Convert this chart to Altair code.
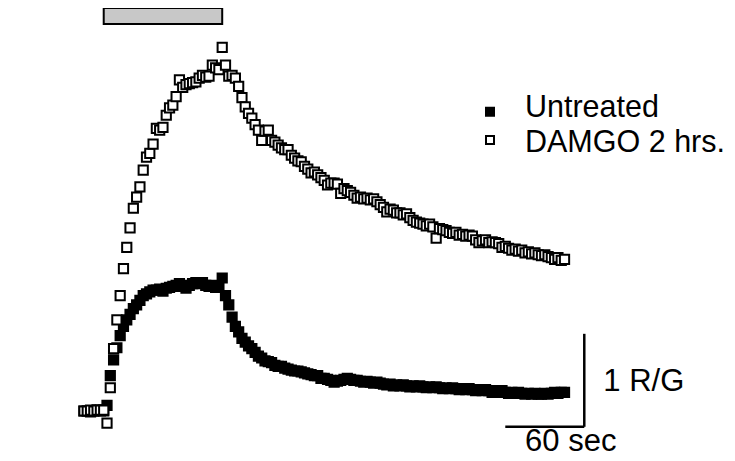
import altair as alt
import pandas as pd

# ---------------- data ----------------
SAMPLE_INTERVAL_S = 2.5          # acquisition interval between frames
series_names = ["Untreated", "DAMGO 2 hrs."]

# change in R/G ratio for each frame
untreated = [
    0.00, 0.00, -0.01, 0.00, 0.01, 0.00, 0.00, 0.06, 0.38, 0.55,
    0.68, 0.81, 0.91, 0.98, 1.04, 1.10, 1.14, 1.19, 1.24, 1.26,
    1.28, 1.30, 1.30, 1.31, 1.29, 1.32, 1.33, 1.34, 1.35, 1.37,
    1.34, 1.32, 1.35, 1.37, 1.38, 1.37, 1.38, 1.35, 1.34, 1.35,
    1.33, 1.34, 1.43, 1.24, 1.14, 1.01, 0.91, 0.85, 0.78, 0.74,
    0.70, 0.67, 0.63, 0.59, 0.57, 0.54, 0.53, 0.52, 0.49, 0.48,
    0.48, 0.46, 0.45, 0.44, 0.43, 0.43, 0.42, 0.41, 0.40, 0.39,
    0.38, 0.38, 0.35, 0.35, 0.34, 0.33, 0.31, 0.32, 0.33, 0.34,
    0.35, 0.34, 0.33, 0.33, 0.32, 0.31, 0.32, 0.31, 0.30, 0.31,
    0.30, 0.29, 0.28, 0.29, 0.27, 0.28, 0.27, 0.28, 0.27, 0.26,
    0.27, 0.26, 0.27, 0.26, 0.25, 0.26, 0.25, 0.26, 0.25, 0.24,
    0.25, 0.24, 0.25, 0.24, 0.23, 0.24, 0.23, 0.24, 0.23, 0.22,
    0.23, 0.22, 0.23, 0.22, 0.20, 0.22, 0.20, 0.22, 0.20, 0.19,
    0.20, 0.19, 0.20, 0.19, 0.18, 0.19, 0.18, 0.19, 0.18, 0.18,
    0.19, 0.18, 0.19, 0.20, 0.19, 0.20, 0.20,
]

damgo = [
    0.00, 0.00, 0.01, 0.00, 0.01, 0.01, 0.01, -0.13, 0.25, 0.67,
    0.98, 1.24, 1.53, 1.76, 1.97, 2.18, 2.30, 2.41, 2.59, 2.73,
    2.77, 2.87, 3.04, 3.02, 3.05, 3.18, 3.26, 3.29, 3.38, 3.56,
    3.48, 3.51, 3.52, 3.53, 3.54, 3.58, 3.61, 3.59, 3.60, 3.72,
    3.69, 3.67, 3.91, 3.72, 3.60, 3.61, 3.58, 3.49, 3.37, 3.27,
    3.20, 3.15, 3.08, 3.02, 2.91, 3.01, 3.02, 2.91, 2.89, 2.86,
    2.83, 2.81, 2.81, 2.75, 2.72, 2.69, 2.68, 2.63, 2.60, 2.56,
    2.57, 2.54, 2.51, 2.48, 2.43, 2.45, 2.45, 2.44, 2.34, 2.39,
    2.37, 2.35, 2.32, 2.29, 2.30, 2.28, 2.29, 2.27, 2.28, 2.25,
    2.22, 2.19, 2.14, 2.17, 2.16, 2.13, 2.13, 2.11, 2.12, 2.08,
    2.05, 2.03, 2.02, 2.01, 1.99, 2.01, 1.98, 1.86, 1.96, 1.95,
    1.94, 1.92, 1.91, 1.92, 1.89, 1.90, 1.88, 1.89, 1.88, 1.84,
    1.81, 1.83, 1.84, 1.81, 1.82, 1.81, 1.80, 1.76, 1.77, 1.75,
    1.73, 1.74, 1.72, 1.73, 1.70, 1.71, 1.69, 1.70, 1.68, 1.67,
    1.68, 1.66, 1.65, 1.63, 1.65, 1.62, 1.63,
]

stimulus_s = [15, 105]            # agonist application (grey bar)
scale_bar_time_s = 60
scale_bar_rg = 1
scale_bar_corner = [380, -0.17]   # (time, R/G) of the scale-bar corner
scale_labels = ["1 R/G", "60 sec"]

# ---------------- tables built from the lists ----------------
n = len(untreated)
time_s = [round(i * SAMPLE_INTERVAL_S, 1) for i in range(n)]
df_u = pd.DataFrame({"t": time_s, "rg": untreated, "series": series_names[0]})
df_d = pd.DataFrame({"t": time_s, "rg": damgo, "series": series_names[1]})

X_DOMAIN = [-57.7, 488.4]
Y_DOMAIN = [-0.4516, 4.3011]
xs = alt.Scale(domain=X_DOMAIN, nice=False, zero=False)
ys = alt.Scale(domain=Y_DOMAIN, nice=False, zero=False)

FONT = "Liberation Sans"
FS = 31
FS_LEG = 30.5

cx, cy = scale_bar_corner
df_stim = pd.DataFrame({"on": [stimulus_s[0]], "off": [stimulus_s[1]]})
df_vbar = pd.DataFrame({"t": [cx], "y0": [cy], "y1": [cy + scale_bar_rg]})
df_hbar = pd.DataFrame({"t0": [cx - scale_bar_time_s], "t1": [cx], "y": [cy]})
df_lab_rg = pd.DataFrame({"t": [cx], "y": [cy + scale_bar_rg / 2], "label": [scale_labels[0]]})
df_lab_t = pd.DataFrame({"t": [cx - scale_bar_time_s / 2], "y": [cy], "label": [scale_labels[1]]})

stim = alt.Chart(df_stim).mark_rect(fill="#c8c8c8", stroke="black", strokeWidth=2).encode(
    x=alt.X("on:Q", scale=xs, axis=None), x2="off:Q",
    y=alt.value(-3), y2=alt.value(13),
)

vbar = alt.Chart(df_vbar).mark_rule(color="black", strokeWidth=2.5).encode(
    x=alt.X("t:Q", scale=xs, axis=None),
    y=alt.Y("y0:Q", scale=ys, axis=None), y2="y1:Q",
)
hbar = alt.Chart(df_hbar).mark_rule(color="black", strokeWidth=2.5).encode(
    x=alt.X("t0:Q", scale=xs, axis=None), x2="t1:Q",
    y=alt.Y("y:Q", scale=ys, axis=None),
)
lab_rg = alt.Chart(df_lab_rg).mark_text(
    font=FONT, fontSize=FS, align="left", baseline="alphabetic", dx=19, dy=11, color="black"
).encode(x=alt.X("t:Q", scale=xs, axis=None), y=alt.Y("y:Q", scale=ys, axis=None), text="label:N")
lab_t = alt.Chart(df_lab_t).mark_text(
    font=FONT, fontSize=FS, align="center", baseline="alphabetic", dx=26, dy=24, color="black"
).encode(x=alt.X("t:Q", scale=xs, axis=None), y=alt.Y("y:Q", scale=ys, axis=None), text="label:N")

pts_u = alt.Chart(df_u).mark_point(
    shape="square", size=85, filled=True, fill="black", stroke="black", strokeWidth=2, opacity=1
).encode(x=alt.X("t:Q", scale=xs, axis=None), y=alt.Y("rg:Q", scale=ys, axis=None))
pts_d = alt.Chart(df_d).mark_point(
    shape="square", size=85, filled=True, fill="white", stroke="black", strokeWidth=2, opacity=1
).encode(x=alt.X("t:Q", scale=xs, axis=None), y=alt.Y("rg:Q", scale=ys, axis=None))

# legend
leg_u = pd.DataFrame({"label": [series_names[0]]})
leg_d = pd.DataFrame({"label": [series_names[1]]})
leg_sym_u = alt.Chart(leg_u).mark_point(
    shape="square", size=64, filled=True, fill="black", stroke="black", strokeWidth=2, opacity=1
).encode(x=alt.value(482), y=alt.value(100.7))
leg_sym_d = alt.Chart(leg_d).mark_point(
    shape="square", size=64, filled=True, fill="white", stroke="black", strokeWidth=2, opacity=1
).encode(x=alt.value(482), y=alt.value(129))
leg_txt_u = alt.Chart(leg_u).mark_text(
    font=FONT, fontSize=FS_LEG, align="left", baseline="alphabetic", color="black"
).encode(x=alt.value(517), y=alt.value(106), text="label:N")
leg_txt_d = alt.Chart(leg_d).mark_text(
    font=FONT, fontSize=FS_LEG, align="left", baseline="alphabetic", color="black"
).encode(x=alt.value(517), y=alt.value(141), text="label:N")

chart = alt.layer(
    stim, vbar, hbar, lab_rg, lab_t, pts_u, pts_d,
    leg_sym_u, leg_sym_d, leg_txt_u, leg_txt_d,
).properties(
    width=719, height=442,
    padding={"left": 0, "top": 3, "right": 0, "bottom": 0},
    autosize="none",
    background="white",
).configure_view(stroke=None)

chart.save("out.html", embed_options={"renderer": "svg", "actions": False})
